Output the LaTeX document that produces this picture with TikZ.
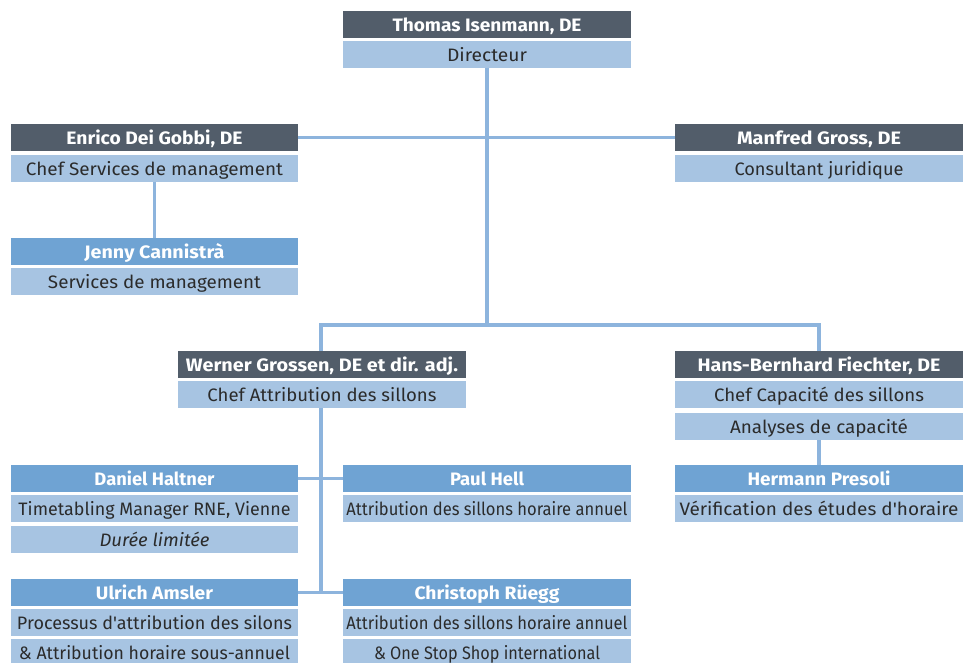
\documentclass[tikz,border=0pt]{standalone}
\usepackage{fontspec}
\setmainfont{Fira Sans}[Ligatures=TeXOff]
\definecolor{hdark}{HTML}{525D6A}
\definecolor{hmid}{HTML}{6FA3D3}
\definecolor{sublight}{HTML}{A7C4E2}
\definecolor{linec}{HTML}{8DB4DD}
\definecolor{txt}{HTML}{2B2B2B}
\newcommand{\tw}[2]{\resizebox{#1pt}{\height}{#2}}
\tikzset{
  box/.style={anchor=north west, inner sep=0pt, outer sep=0pt, minimum height=27pt, text height=14pt, text depth=0pt, align=center, font=\fontsize{18}{20}\selectfont},
  hd/.style={box, fill=hdark, text=white, font=\fontsize{18}{20}\selectfont\bfseries},
  hm/.style={box, fill=hmid, text=white, font=\fontsize{18}{20}\selectfont\bfseries},
  sb/.style={box, fill=sublight, text=txt},
  wl/.style={minimum width=288pt},
  wn/.style={minimum width=287pt},
  conn/.style={draw=linec, line width=3.5pt}
}
\begin{document}
\begin{tikzpicture}[x=1pt,y=-1pt]
\useasboundingbox (0,0) rectangle (964,663);
% connectors (drawn first, boxes on top)
\coordinate (hub) at (487,325);
\coordinate (hubL) at (321,325);
\coordinate (hubR) at (819,325);
% top
\node[hd,wl] (thomas) at (343,11) {\tw{189}{Thomas Isenmann, DE}};
\node[sb,wl] (thomasS) at (343,41) {\tw{80}{Directeur}};
% Enrico
\node[hd,wn] (enrico) at (11,124) {\tw{176}{Enrico Dei Gobbi, DE}};
\node[sb,wn] (enricoS) at (11,155) {\tw{257}{Chef Services de management}};
% Manfred
\node[hd,wl] (manfred) at (675,124) {\tw{164}{Manfred Gross, DE}};
\node[sb,wl] (manfredS) at (675,155) {\tw{169}{Consultant juridique}};
% Jenny
\node[hm,wn] (jenny) at (11,238) {\tw{140}{Jenny Cannistrà}};
\node[sb,wn] (jennyS) at (11,268) {\tw{213}{Services de management}};
% Werner
\node[hd,wl] (werner) at (178,351) {\tw{272}{Werner Grossen, DE et dir. adj.}};
\node[sb,wl] (wernerS) at (178,381) {\tw{229}{Chef Attribution des sillons}};
% Hans
\node[hd,wl] (hans) at (675,351) {\tw{243}{Hans-Bernhard Fiechter, DE}};
\node[sb,wl] (hansS) at (675,381) {\tw{210}{Chef Capacité des sillons}};
\node[sb,wl] (hansT) at (675,413) {\tw{178}{Analyses de capacité}};
% Hermann
\node[hm,wl] (hermann) at (675,465) {\tw{143}{Hermann Presoli}};
\node[sb,wl] (hermannS) at (675,495) {\tw{279}{Vérification des études d'horaire}};
% Daniel
\node[hm,wn] (daniel) at (11,465) {\tw{120}{Daniel Haltner}};
\node[sb,wn] (danielS) at (11,495) {\tw{272}{Timetabling Manager RNE, Vienne}};
\node[sb,wn] (danielT) at (11,526) {\tw{110}{\itshape Durée limitée}};
% Paul
\node[hm,wl] (paul) at (343,465) {\tw{74}{Paul Hell}};
\node[sb,wl] (paulS) at (343,495) {\tw{281}{Attribution des sillons horaire annuel}};
% Ulrich
\node[hm,wn] (ulrich) at (11,579) {\tw{117}{Ulrich Amsler}};
\node[sb,wn] (ulrichS) at (11,609) {\tw{275}{Processus d'attribution des silons}};
\node[sb,wn] (ulrichT) at (11,639) {\tw{271}{\& Attribution horaire sous-annuel}};
% Christoph
\node[hm,wl] (christoph) at (343,579) {\tw{145}{Christoph Rüegg}};
\node[sb,wl] (christophS) at (343,609) {\tw{281}{Attribution des sillons horaire annuel}};
\node[sb,wl] (christophT) at (343,639) {\tw{226}{\& One Stop Shop international}};
% connectors
\draw[conn] (thomasS.south) -- (hub);
\draw[conn] (enrico.east) -- (manfred.west);
\draw[conn] (enricoS.south) -- (jenny.north);
\draw[conn] (hubL |- werner.north) -- (hubL) -- (hubR) -- (hubR |- hans.north);
\draw[conn] (hubL |- wernerS.south) -- (hubL |- ulrich.east);
\draw[conn] (daniel.east) -- (paul.west);
\draw[conn] (ulrich.east) -- (christoph.west);
\draw[conn] (hansT.south) -- (hermann.north);
\end{tikzpicture}
\end{document}
